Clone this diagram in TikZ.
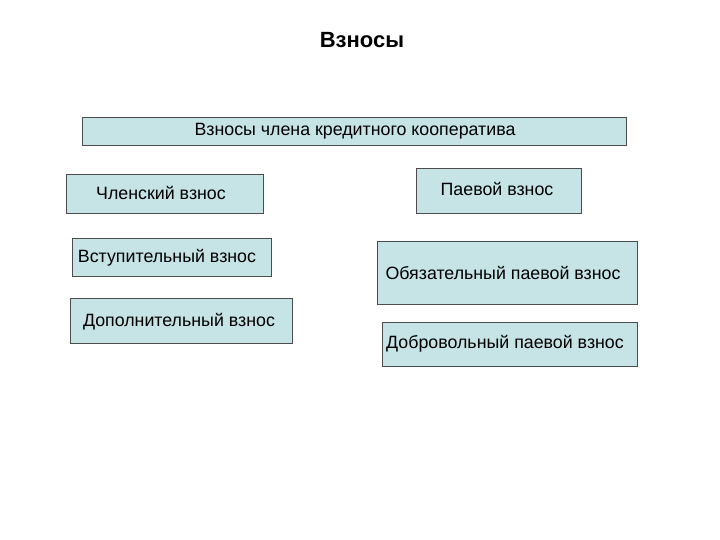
\documentclass[tikz,border=0pt]{standalone}
\usepackage{fontspec}
\setmainfont{Liberation Sans}
\definecolor{boxfill}{HTML}{C6E3E6}
\begin{document}
\begin{tikzpicture}[x=1pt,y=-1pt,
  bx/.style={draw=black!70,fill=boxfill,line width=0.6pt},
  lbl/.style={font=\fontsize{17.8}{20}\selectfont,inner sep=0pt}]
\useasboundingbox (0,0) rectangle (720,540);
\node[font=\bfseries\fontsize{22}{24}\selectfont] (title) at (362,40) {Взносы};
\draw[bx] (82,117) rectangle (626,145);
\node[lbl] (main) at (355,131) {Взносы члена кредитного кооператива};
\draw[bx] (66,174) rectangle (263,213);
\node[lbl] (chl) at (161,193) {Членский взнос};
\draw[bx] (416,168) rectangle (581,213);
\node[lbl] (pae) at (497,189) {Паевой взнос};
\draw[bx] (72,238) rectangle (271,276);
\node[lbl] (vst) at (167,258) {Вступительный взнос};
\draw[bx] (377,241) rectangle (637,304);
\node[lbl] (obz) at (503,273) {Обязательный паевой взнос};
\draw[bx] (70,298) rectangle (292,343);
\node[lbl] (dop) at (179,322) {Дополнительный взнос};
\draw[bx] (382,322) rectangle (637,366);
\node[lbl] (dob) at (505,344) {Добровольный паевой взнос};
\end{tikzpicture}
\end{document}
